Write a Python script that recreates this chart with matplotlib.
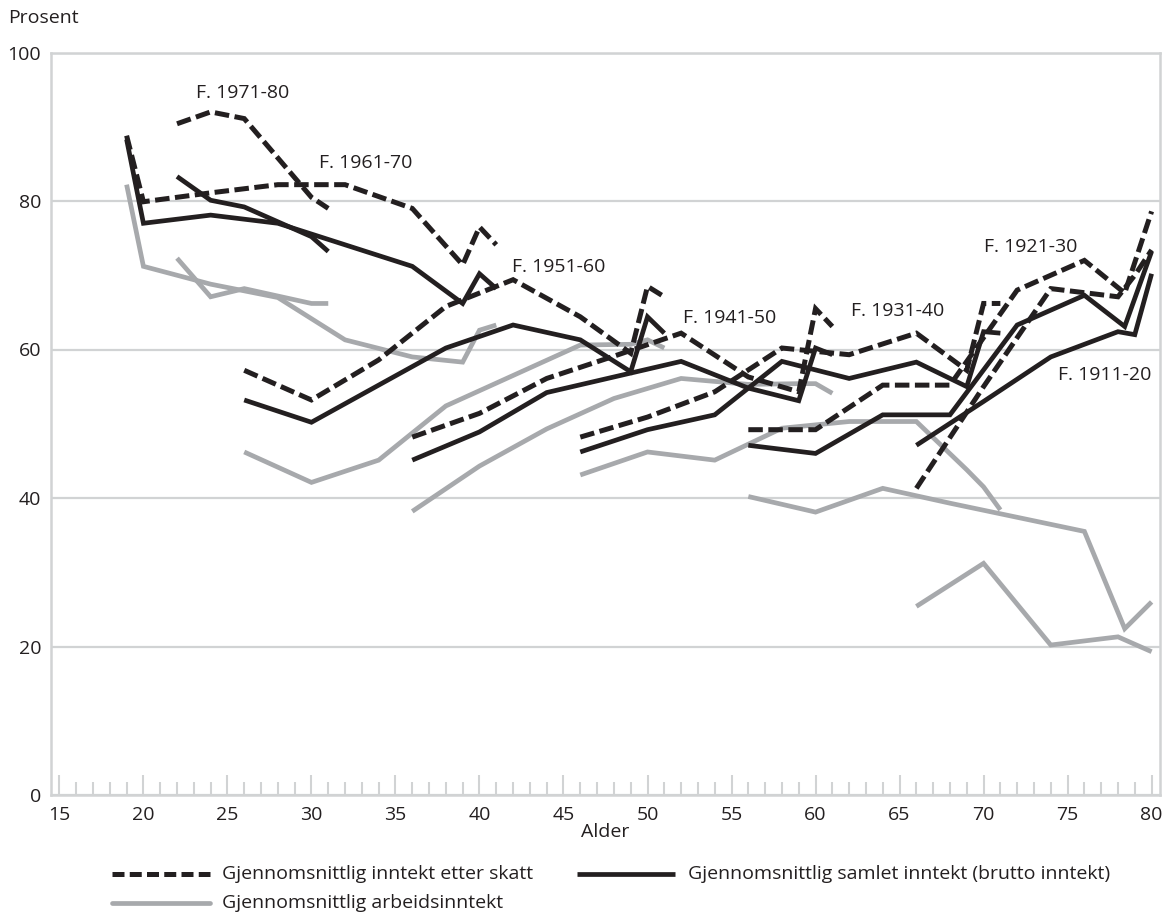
import matplotlib
matplotlib.use("Agg")
import matplotlib.pyplot as plt
from matplotlib.lines import Line2D
from matplotlib.ticker import MultipleLocator

plt.rcParams['font.family'] = ['Open Sans', 'DejaVu Sans']

# ---------------- data ----------------
# ages at which each cohort is observed
age_1971_80 = [22, 24, 26, 30, 31]
age_1961_70 = [19, 20, 24, 28, 32, 36, 39, 40, 41]
age_1951_60 = [26, 30, 34, 38, 42, 46, 49, 50, 51]
age_1941_50 = [36, 40, 44, 48, 52, 56, 59, 60, 61]
age_1931_40 = [46, 50, 54, 58, 62, 66, 69, 70, 71]
age_1921_30 = [56, 60, 64, 68, 72, 76, 78.4, 80]
age_1911_20 = [66, 70, 74, 78, 79, 80]

# Gjennomsnittlig inntekt etter skatt (dashed)
tax_1971_80 = [90.4, 92.0, 91.1, 80.5, 79.0]
tax_1961_70 = [88.8, 79.9, 81.1, 82.2, 82.2, 79.0, 71.4, 76.5, 74.1]
tax_1951_60 = [57.2, 53.2, 58.6, 65.8, 69.4, 64.4, 59.5, 68.5, 67.1]
tax_1941_50 = [48.2, 51.4, 56.1, 59.1, 62.2, 56.3, 54.3, 65.5, 63.1]
tax_1931_40 = [48.2, 50.9, 54.3, 60.2, 59.3, 62.2, 57.2, 66.2, 66.2]
tax_1921_30 = [49.2, 49.2, 55.2, 55.2, 68.0, 72.0, 67.6, 78.6]
tax_1911_20 = [41.3, 55.0, 68.2, 67.1, 70.0, 73.4]

# Gjennomsnittlig samlet inntekt (brutto inntekt) (solid black)
gross_1971_80 = [83.3, 80.1, 79.2, 75.2, 73.2]
gross_1961_70 = [88.3, 77.0, 78.1, 77.0, 74.1, 71.2, 66.2, 70.2, 68.2]
gross_1951_60 = [53.2, 50.2, 55.2, 60.2, 63.3, 61.3, 57.0, 64.4, 62.2]
gross_1941_50 = [45.1, 48.9, 54.2, 56.3, 58.4, 54.8, 53.1, 60.2, 59.3]
gross_1931_40 = [46.2, 49.2, 51.2, 58.4, 56.1, 58.3, 55.0, 62.4, 62.2]
gross_1921_30 = [47.1, 46.0, 51.2, 51.2, 63.3, 67.3, 63.1, 73.2]
gross_1911_20 = [47.1, 53.0, 59.0, 62.4, 62.0, 70.2]

# Gjennomsnittlig arbeidsinntekt (grey)
work_1971_80 = [72.3, 67.1, 68.2, 66.2, 66.2]
work_1961_70 = [82.2, 71.2, 68.8, 67.0, 61.3, 59.0, 58.3, 62.6, 63.3]
work_1951_60 = [46.2, 42.1, 45.1, 52.4, 56.5, 60.6, 60.7, 61.3, 60.2]
work_1941_50 = [38.2, 44.3, 49.3, 53.4, 56.1, 55.3, 55.4, 55.4, 54.1]
work_1931_40 = [43.1, 46.2, 45.1, 49.4, 50.3, 50.3, 43.8, 41.5, 38.4]
work_1921_30 = [40.2, 38.1, 41.3, 39.3, 37.4, 35.5, 22.4, 26.0]
work_1911_20 = [25.4, 31.2, 20.2, 21.3, 20.3, 19.3]

cohort_labels = ["F. 1971-80", "F. 1961-70", "F. 1951-60", "F. 1941-50",
                 "F. 1931-40", "F. 1921-30", "F. 1911-20"]
label_pos_age = [25.9, 33.2, 44.7, 54.9, 64.9, 72.8, 77.2]
label_pos_val = [94.5, 85.1, 71.1, 64.2, 65.2, 73.8, 56.6]

x_ticks = list(range(15, 81, 5))
y_ticks = [0, 20, 40, 60, 80, 100]
legend_labels = ["Gjennomsnittlig inntekt etter skatt",
                 "Gjennomsnittlig samlet inntekt (brutto inntekt)",
                 "Gjennomsnittlig arbeidsinntekt"]

# ---------------- styling ----------------
BLACK = '#231F20'
GREY = '#A7A9AC'
GRIDC = '#D1D3D4'
TXT = '#231F20'
LW = 3.4
DASH = (0, (2.9, 1.1))
FS = 14

W, H = 1167, 918
fig = plt.figure(figsize=(W / 100, H / 100), dpi=100)
ax = fig.add_axes([51 / W, 1 - 795 / H, (1160 - 51) / W, (795 - 52.5) / H])

ages = [age_1971_80, age_1961_70, age_1951_60, age_1941_50,
        age_1931_40, age_1921_30, age_1911_20]
taxes = [tax_1971_80, tax_1961_70, tax_1951_60, tax_1941_50,
         tax_1931_40, tax_1921_30, tax_1911_20]
grosses = [gross_1971_80, gross_1961_70, gross_1951_60, gross_1941_50,
           gross_1931_40, gross_1921_30, gross_1911_20]
works = [work_1971_80, work_1961_70, work_1951_60, work_1941_50,
         work_1931_40, work_1921_30, work_1911_20]

for a, w in zip(ages, works):
    ax.plot(a, w, color=GREY, lw=LW, solid_joinstyle='miter',
            solid_capstyle='butt', zorder=3)
for a, g in zip(ages, grosses):
    ax.plot(a, g, color=BLACK, lw=LW, solid_joinstyle='miter',
            solid_capstyle='butt', zorder=4)
for a, t in zip(ages, taxes):
    ax.plot(a, t, color=BLACK, lw=LW + 0.2, linestyle=DASH,
            dash_capstyle='butt', dash_joinstyle='miter', zorder=5)

for lab, xa, ya in zip(cohort_labels, label_pos_age, label_pos_val):
    ax.text(xa, ya, lab, fontsize=FS, color=TXT, ha='center', va='center',
            zorder=6)

ax.set_xlim(14.5, 80.5)
ax.set_ylim(0, 100)
ax.set_xticks(x_ticks)
ax.xaxis.set_minor_locator(MultipleLocator(1))
ax.set_yticks(y_ticks)
ax.tick_params(axis='x', which='major', direction='in', length=14.5,
               width=1.5, color=GRIDC, labelsize=FS, labelcolor=TXT, pad=8)
ax.tick_params(axis='x', which='minor', direction='in', length=9.5,
               width=1.5, color=GRIDC)
ax.tick_params(axis='y', which='both', length=0, labelsize=FS,
               labelcolor=TXT, pad=7)
ax.yaxis.grid(True, color=GRIDC, lw=1.6, zorder=0)
ax.set_axisbelow(True)
for s in ax.spines.values():
    s.set_color(GRIDC)
    s.set_linewidth(1.8)

ax.set_xlabel("Alder", fontsize=FS, color=TXT, labelpad=-1)
fig.text(8 / W, 1 - 18 / H, "Prosent", fontsize=FS, color=TXT,
         ha='left', va='center')

# legend (drawn manually to match the layout)
def fx(px):
    return px / W

def fy(py):
    return 1 - py / H

fig.add_artist(Line2D([fx(112), fx(210)], [fy(874), fy(874)], color=BLACK,
                      lw=LW + 0.2, linestyle=(0, (2.4, 1.05)),
                      dash_capstyle='butt'))
fig.text(fx(222), fy(874), legend_labels[0], fontsize=FS, color=TXT,
         ha='left', va='center')
fig.add_artist(Line2D([fx(577), fx(675)], [fy(874), fy(874)], color=BLACK,
                      lw=LW, solid_capstyle='butt'))
fig.text(fx(688), fy(874), legend_labels[1], fontsize=FS, color=TXT,
         ha='left', va='center')
fig.add_artist(Line2D([fx(112), fx(210)], [fy(903), fy(903)], color=GREY,
                      lw=LW, solid_capstyle='round'))
fig.text(fx(222), fy(903), legend_labels[2], fontsize=FS, color=TXT,
         ha='left', va='center')

fig.savefig("out.png", dpi=100)
